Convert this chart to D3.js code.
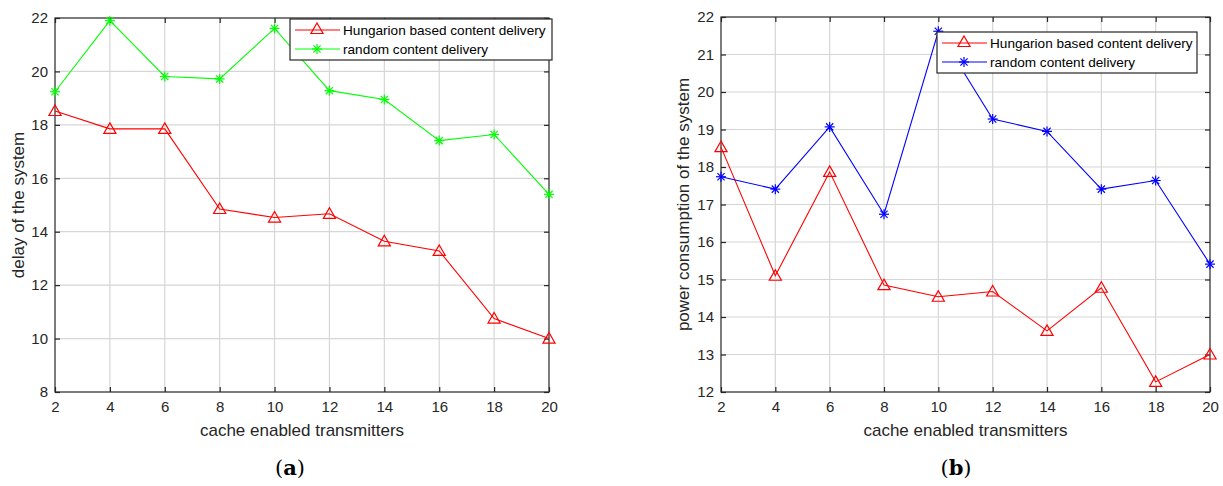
<!DOCTYPE html>
<html><head><meta charset="utf-8">
<script src="https://cdn.jsdelivr.net/npm/d3@7"></script>
<style>body{margin:0;background:#fff;} svg{display:block;}</style>
</head><body>
<svg id="c" width="1223" height="486"></svg>
<script>
const xValues = [2,4,6,8,10,12,14,16,18,20];
const xTicks = [2,4,6,8,10,12,14,16,18,20];
// Panel (a): delay
const delayHungarian = [18.52,17.85,17.85,14.85,14.53,14.67,13.64,13.28,10.75,10.0];
const delayRandom = [19.24,21.9,19.81,19.72,21.61,19.28,18.95,17.41,17.64,15.4];
const delayTicks = [8,10,12,14,16,18,20,22];
// Panel (b): power consumption
const powerHungarian = [18.53,15.1,17.87,14.85,14.54,14.68,13.63,14.78,12.27,13.0];
const powerRandom = [17.74,17.41,19.07,16.74,21.62,19.28,18.95,17.41,17.64,15.41];
const powerTicks = [12,13,14,15,16,17,18,19,20,21,22];
const seriesNames = ["Hungarion based content delivery","random content delivery"];

const svg = d3.select("#c");
const axisColor = "#262626";
const font = "'Liberation Sans', Arial, sans-serif";

function panel(o){
  const g = svg.append("g");
  const x = d3.scaleLinear().domain([2,20]).range([o.x0,o.x1]);
  const y = d3.scaleLinear().domain(o.ydom).range([o.y1,o.y0]);
  // grid
  g.selectAll(".gx").data(xTicks.slice(1,-1)).join("line")
    .attr("x1",d=>x(d)).attr("x2",d=>x(d)).attr("y1",o.y0).attr("y2",o.y1)
    .attr("stroke","#d6d6d6").attr("stroke-width",1.2);
  g.selectAll(".gy").data(o.yticks.slice(1,-1)).join("line")
    .attr("y1",d=>y(d)).attr("y2",d=>y(d)).attr("x1",o.x0).attr("x2",o.x1)
    .attr("stroke","#d6d6d6").attr("stroke-width",1.2);
  // frame
  g.append("rect").attr("x",o.x0).attr("y",o.y0).attr("width",o.x1-o.x0).attr("height",o.y1-o.y0)
    .attr("fill","none").attr("stroke",axisColor).attr("stroke-width",1.2);
  const tl = 5;
  const ax = g.append("g").attr("transform",`translate(0,${o.y1})`)
    .call(d3.axisBottom(x).tickValues(xTicks).tickSizeInner(-tl).tickSizeOuter(0).tickPadding(9));
  const axT = g.append("g").attr("transform",`translate(0,${o.y0})`)
    .call(d3.axisTop(x).tickValues(xTicks).tickSizeInner(-tl).tickSizeOuter(0).tickFormat(""));
  const ay = g.append("g").attr("transform",`translate(${o.x0},0)`)
    .call(d3.axisLeft(y).tickValues(o.yticks).tickSizeInner(-tl).tickSizeOuter(0).tickPadding(7));
  const ayR = g.append("g").attr("transform",`translate(${o.x1},0)`)
    .call(d3.axisRight(y).tickValues(o.yticks).tickSizeInner(-tl).tickSizeOuter(0).tickFormat(""));
  [ax,axT,ay,ayR].forEach(a=>{
    a.select(".domain").remove();
    a.selectAll("line").attr("stroke",axisColor).attr("stroke-width",1.2);
    a.selectAll("text").attr("fill",axisColor).style("font-family",font).style("font-size","15px");
  });
  ax.selectAll("text").attr("dy","0.71em");
  // labels
  g.append("text").attr("x",(o.x0+o.x1)/2).attr("y",o.y1+44).attr("text-anchor","middle")
    .attr("fill",axisColor).style("font-family",font).style("font-size","17px").text("cache enabled transmitters");
  g.append("text").attr("transform",`translate(${o.ylabX},${(o.y0+o.y1)/2}) rotate(-90)`)
    .attr("text-anchor","middle").attr("fill",axisColor).style("font-family",font).style("font-size","17px").text(o.ylabel);
  g.append("text").attr("x",o.capX).attr("y",475).attr("text-anchor","middle")
    .style("font-family","'DejaVu Serif','Liberation Serif',serif").style("font-size","21px").attr("fill","#000")
    .html(`(<tspan font-weight="bold">${o.cap}</tspan>)`);
  // lines
  const line = d3.line().x((d,i)=>x(xValues[i])).y(d=>y(d));
  const m = g.append("g");
  m.append("path").datum(o.s1).attr("d",line).attr("fill","none").attr("stroke","#ff0000").attr("stroke-width",1.1);
  m.append("path").datum(o.s2).attr("d",line).attr("fill","none").attr("stroke",o.c2).attr("stroke-width",1.1);
  const tri = d3.symbol().type(d3.symbolTriangle).size(64);
  m.selectAll(".t").data(o.s1).join("path")
    .attr("transform",(d,i)=>`translate(${x(xValues[i])},${y(d)+1})`)
    .attr("d",tri).attr("fill","none").attr("stroke","#ff0000").attr("stroke-width",1.2);
  function star(sel,cx,cy,c){
    const r=5;
    const st = sel.append("g").attr("transform",`translate(${cx},${cy})`).attr("stroke",c).attr("stroke-width",1.2);
    st.append("line").attr("x1",-r).attr("x2",r).attr("y1",0).attr("y2",0);
    st.append("line").attr("x1",0).attr("x2",0).attr("y1",-r).attr("y2",r);
    const q=r*0.72;
    st.append("line").attr("x1",-q).attr("x2",q).attr("y1",-q).attr("y2",q);
    st.append("line").attr("x1",-q).attr("x2",q).attr("y1",q).attr("y2",-q);
  }
  o.s2.forEach((d,i)=>star(m,x(xValues[i]),y(d),o.c2));
  // legend
  const L = g.append("g");
  L.append("rect").attr("x",o.lx).attr("y",o.ly).attr("width",o.lw).attr("height",41)
    .attr("fill","#fff").attr("stroke",axisColor).attr("stroke-width",1.2);
  const rows = [{n:seriesNames[0],c:"#ff0000",m:"tri"},{n:seriesNames[1],c:o.c2,m:"star"}];
  rows.forEach((r,i)=>{
    const yy = o.ly+11+i*19;
    L.append("line").attr("x1",o.lx+5).attr("x2",o.lx+50).attr("y1",yy).attr("y2",yy).attr("stroke",r.c).attr("stroke-width",1.1);
    if(r.m==="tri") L.append("path").attr("transform",`translate(${o.lx+27},${yy})`).attr("d",tri).attr("fill","none").attr("stroke",r.c).attr("stroke-width",1.2);
    else star(L,o.lx+27,yy,r.c);
    L.append("text").attr("x",o.lx+53).attr("y",yy).attr("dy","0.35em").attr("fill","#000")
      .style("font-family",font).style("font-size","13.6px").text(r.n);
  });
}

panel({x0:55,x1:549,y0:18,y1:392,ydom:[8,22],yticks:delayTicks,s1:delayHungarian,s2:delayRandom,c2:"#00ff00",
  ylabel:"delay of the system",ylabX:24,cap:"a",capX:290,lx:290,ly:19,lw:262});
panel({x0:721,x1:1210,y0:17,y1:392,ydom:[12,22],yticks:powerTicks,s1:powerHungarian,s2:powerRandom,c2:"#0000ff",
  ylabel:"power consumption of the system",ylabX:689,cap:"b",capX:956,lx:937,ly:32,lw:260});
</script>
</body></html>
